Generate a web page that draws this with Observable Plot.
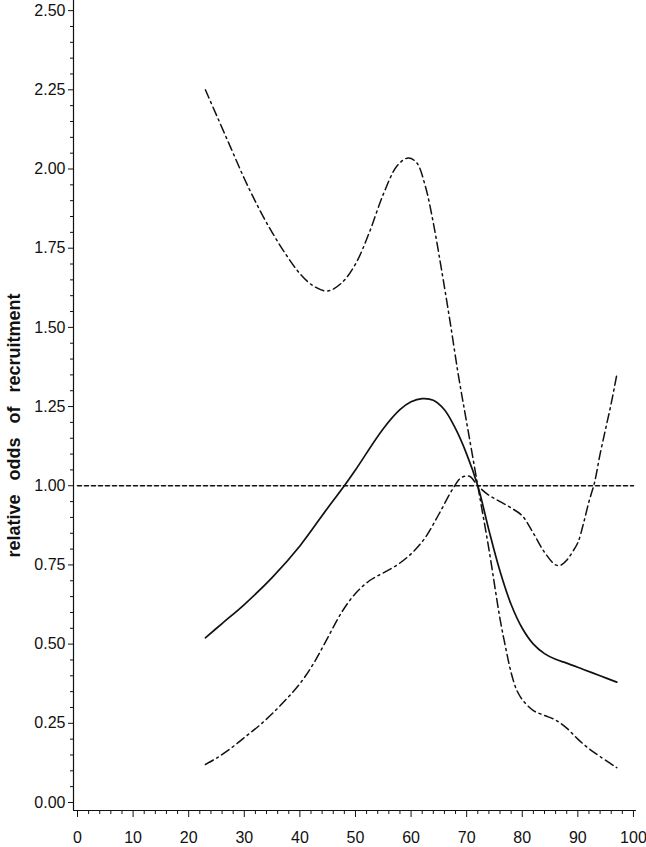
<!DOCTYPE html>
<html>
<head>
<meta charset="utf-8">
<script src="https://cdn.jsdelivr.net/npm/d3@7"></script>
<script src="https://cdn.jsdelivr.net/npm/@observablehq/plot@0.6"></script>
<style>
  html, body { margin: 0; padding: 0; background: #fff; }
  #chart svg { display: block; }
</style>
</head>
<body>
<div id="chart"></div>
<script>
// ---- data ----
const yTitle = "relative odds of recruitment";

const xTicks = [0, 10, 20, 30, 40, 50, 60, 70, 80, 90, 100];
const yTicks = [0, 0.25, 0.5, 0.75, 1.0, 1.25, 1.5, 1.75, 2.0, 2.25, 2.5];

// estimate (solid)
const estX = [23, 26, 30, 35, 40, 45, 48, 50, 55, 58, 60, 62, 64, 66, 68, 70, 72, 74, 76, 78, 80, 82, 84, 86, 88, 91, 94, 97];
const estY = [0.52, 0.565, 0.625, 0.71, 0.81, 0.93, 1.00, 1.05, 1.18, 1.24, 1.265, 1.275, 1.27, 1.24, 1.18, 1.10, 1.00, 0.86, 0.73, 0.625, 0.55, 0.50, 0.47, 0.452, 0.44, 0.42, 0.40, 0.38];

// band curve starting high (dash-dot)
const upX = [23, 25, 27.5, 30, 32.5, 35, 37.5, 40, 42.5, 45, 47.5, 50, 52.5, 55, 57.5, 59.5, 61, 62.5, 64, 65.5, 67, 68.5, 70, 72, 74, 76, 77, 78, 79, 80, 82, 84, 86, 88, 90, 92, 94, 97];
const upY = [2.25, 2.17, 2.07, 1.97, 1.88, 1.80, 1.73, 1.67, 1.63, 1.615, 1.64, 1.70, 1.80, 1.92, 2.01, 2.035, 2.02, 1.95, 1.83, 1.68, 1.52, 1.35, 1.20, 1.00, 0.80, 0.58, 0.49, 0.41, 0.355, 0.325, 0.29, 0.275, 0.26, 0.235, 0.20, 0.17, 0.145, 0.11];

// band curve starting low (dash-dot)
const loX = [23, 25, 27.5, 30, 32.5, 35, 37.5, 40, 42.5, 45, 47.5, 50, 52.5, 55, 57.5, 60, 62.5, 65, 67.5, 69, 70.5, 72, 74, 76, 78, 80, 82, 84, 86, 87, 88, 89, 90, 91, 92, 93, 94, 95, 96, 97];
const loY = [0.12, 0.14, 0.17, 0.205, 0.24, 0.28, 0.325, 0.375, 0.44, 0.52, 0.60, 0.66, 0.70, 0.725, 0.75, 0.785, 0.835, 0.91, 0.99, 1.025, 1.03, 1.00, 0.97, 0.95, 0.93, 0.905, 0.85, 0.79, 0.75, 0.75, 0.765, 0.79, 0.82, 0.88, 0.95, 1.01, 1.10, 1.18, 1.26, 1.35];

// reference line at odds = 1
const refX = [0, 100];
const refY = [1, 1];

// ---- build ----
const xMinor = d3.range(0, 101, 2).filter(v => v % 10 !== 0);
const yMinor = d3.range(0, 51, 1).map(v => v / 20).filter((v, i) => i % 5 !== 0);

const toRows = (xs, ys) => xs.map((x, i) => ({x, y: ys[i]}));
const est = toRows(estX, estY);
const up = toRows(upX, upY);
const lo = toRows(loX, loY);
const ref = toRows(refX, refY);

const xDomain = [-0.72, 100.55];
const yDomain = [-0.0253, 2.532];
const ink = "#111";
const dashDot = "9,4,2,4";

const chart = Plot.plot({
  width: 646,
  height: 847,
  marginLeft: 73,
  marginRight: 10,
  marginTop: 0,
  marginBottom: 37,
  x: {domain: xDomain},
  y: {domain: yDomain},
  style: {fontFamily: "'Liberation Sans', Arial, Helvetica, sans-serif", fontSize: "16px", color: ink, background: "#fff"},
  marks: [
    // minor ticks
    Plot.axisX(xMinor, {tickSize: 4, tickFormat: () => "", label: null, stroke: ink}),
    Plot.axisY(yMinor, {tickSize: 3, tickFormat: () => "", label: null, stroke: ink}),
    // major ticks with labels
    Plot.axisX(xTicks, {tickSize: 7, tickPadding: 14, tickFormat: d3.format("d"), label: null, stroke: ink, fill: ink, fontSize: 16}),
    Plot.axisY(yTicks, {tickSize: 5, tickPadding: 3, tickFormat: d3.format(".2f"), label: null, stroke: ink, fill: ink, fontSize: 16}),
    // axis lines
    Plot.ruleX([xDomain[0]], {stroke: ink, strokeWidth: 1.2}),
    Plot.ruleY([yDomain[0]], {stroke: ink, strokeWidth: 1.2}),
    // y title
    Plot.text([yTitle], {frameAnchor: "left", textAnchor: "middle", rotate: -90, dx: -59, dy: 20, fontWeight: "bold", fontSize: 18, fill: ink}),
    // reference line
    Plot.line(ref, {x: "x", y: "y", stroke: ink, strokeWidth: 1.6, strokeDasharray: "4,3"}),
    // confidence curves
    Plot.line(up, {x: "x", y: "y", curve: "catmull-rom", stroke: ink, strokeWidth: 1.5, strokeDasharray: dashDot}),
    Plot.line(lo, {x: "x", y: "y", curve: "catmull-rom", stroke: ink, strokeWidth: 1.5, strokeDasharray: dashDot}),
    // estimate
    Plot.line(est, {x: "x", y: "y", curve: "catmull-rom", stroke: ink, strokeWidth: 1.7})
  ]
});

// widen the gaps between the words of the y title, as in the reference
d3.select(chart).selectAll("text")
  .filter(function () { return this.textContent === yTitle; })
  .style("word-spacing", "9px");

document.getElementById("chart").appendChild(chart);
</script>
</body>
</html>
